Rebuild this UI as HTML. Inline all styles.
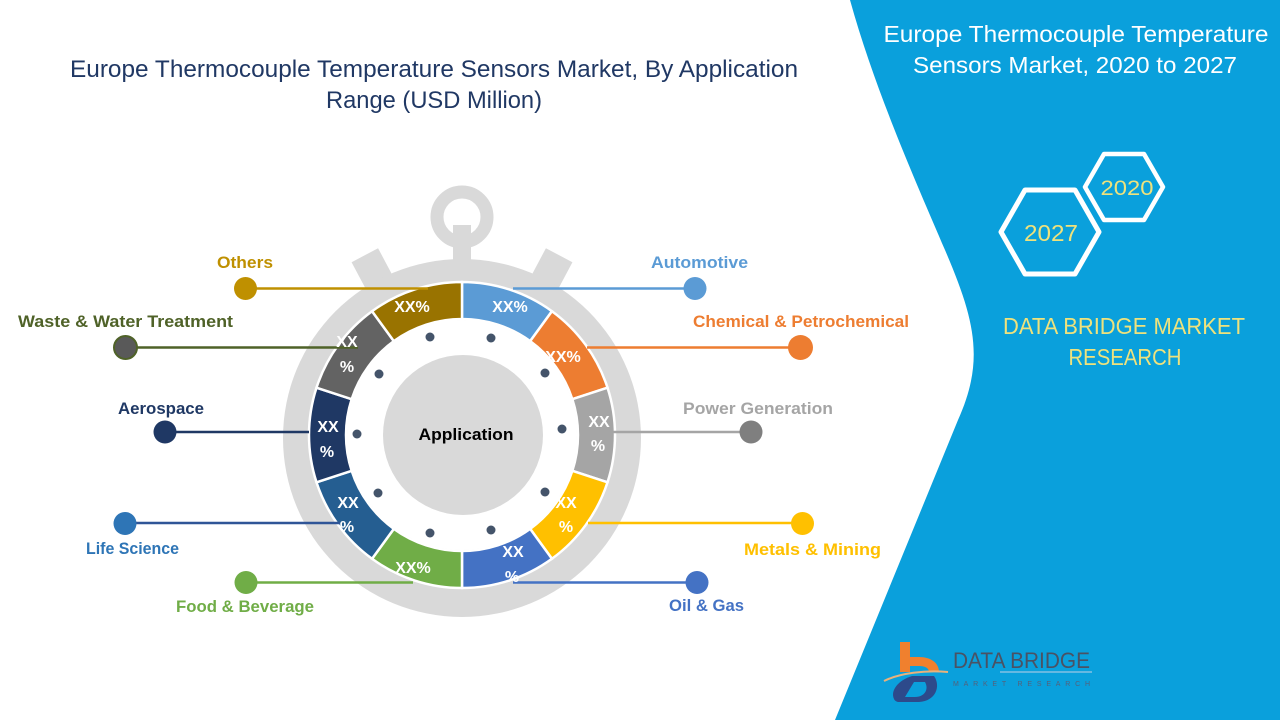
<!DOCTYPE html>
<html>
<head>
<meta charset="utf-8">
<style>
html,body{margin:0;padding:0;background:#fff;}
svg{display:block;}
text{font-family:"Liberation Sans",Arial,sans-serif;}
</style>
</head>
<body>
<svg width="1280" height="720" viewBox="0 0 1280 720" xmlns="http://www.w3.org/2000/svg">
<rect x="0" y="0" width="1280" height="720" fill="#ffffff"/>

<!-- Blue right panel -->
<path d="M850,0 C875,90 915,180 945,250 C975,320 985,360 958,420 L835,720 L1280,720 L1280,0 Z" fill="#0aa0dc"/>

<!-- Left title -->
<text x="434" y="77" font-size="24" fill="#203864" text-anchor="middle" textLength="728" lengthAdjust="spacingAndGlyphs">Europe Thermocouple Temperature Sensors Market, By Application</text>
<text x="434" y="108" font-size="24" fill="#203864" text-anchor="middle" textLength="216" lengthAdjust="spacingAndGlyphs">Range (USD Million)</text>

<!-- Right title -->
<text x="1076" y="42" font-size="23" fill="#ffffff" text-anchor="middle" textLength="385" lengthAdjust="spacingAndGlyphs">Europe Thermocouple Temperature</text>
<text x="1075" y="73" font-size="23" fill="#ffffff" text-anchor="middle" textLength="324" lengthAdjust="spacingAndGlyphs">Sensors Market, 2020 to 2027</text>

<!-- Hexagons -->
<polygon points="1085,187 1104,154 1144,154 1163,187 1144,220 1104,220" fill="none" stroke="#ffffff" stroke-width="4.5" stroke-linejoin="round"/>
<polygon points="1001,232 1025,190 1075,190 1099,232 1075,274 1025,274" fill="none" stroke="#ffffff" stroke-width="5" stroke-linejoin="round"/>
<text x="1127" y="195" font-size="21" fill="#efe27c" text-anchor="middle" textLength="53" lengthAdjust="spacingAndGlyphs">2020</text>
<text x="1051" y="241" font-size="23" fill="#efe27c" text-anchor="middle" textLength="54" lengthAdjust="spacingAndGlyphs">2027</text>

<text x="1124" y="334" font-size="23" fill="#efe27c" text-anchor="middle" textLength="242" lengthAdjust="spacingAndGlyphs">DATA BRIDGE MARKET</text>
<text x="1125" y="365" font-size="23" fill="#efe27c" text-anchor="middle" textLength="113" lengthAdjust="spacingAndGlyphs">RESEARCH</text>

<!-- Logo -->
<g>
  <path d="M900,642 L910,642 L910,657 L919,657 C931,657 939,663 939,672 L929,672 C929,668 925,666 919,666 L910,666 L910,672 L900,672 Z" fill="#f0802e"/>
  <path d="M884,681 C900,673 925,670 948,672" fill="none" stroke="#e8b27c" stroke-width="2"/>
  <path d="M1000,672 L1092,672" fill="none" stroke="#9cc6e4" stroke-width="1.2"/>
  <path fill-rule="evenodd" fill="#2d4a8b" d="M894,699 C890,690 899,680 912,676 L934,676 C941,686 936,701 919,702 L899,702 C897,702 895,701 894,699 Z M905,697 L914,682 L925,682 C929,689 925,697 915,697 Z"/>
  <text x="953" y="668" font-size="22" fill="#4a5264" textLength="137" lengthAdjust="spacingAndGlyphs">DATA BRIDGE</text>
  <text x="953" y="686" font-size="7" fill="#55607a" textLength="137" lengthAdjust="spacing">MARKET RESEARCH</text>
</g>

<!-- Stopwatch body -->
<g fill="#d9d9d9">
  <circle cx="462" cy="217" r="25" fill="none" stroke="#d9d9d9" stroke-width="13"/>
  <rect x="453" y="225" width="18" height="42"/>
  <rect x="447" y="231" width="30" height="50" transform="rotate(-28 462 438)"/>
  <rect x="447" y="231" width="30" height="50" transform="rotate(28 462 438)"/>
  <circle cx="462" cy="438" r="179"/>
</g>

<!-- Segments -->
<g stroke="#ffffff" stroke-width="2.5" stroke-linejoin="miter">
  <path d="M462,282 A153,153 0 0 1 551.93,311.22 L530.18,341.16 A116,116 0 0 0 462,319 Z" fill="#5b9bd5"/>
  <path d="M551.93,311.22 A153,153 0 0 1 607.52,387.72 L572.33,399.16 A116,116 0 0 0 530.18,341.16 Z" fill="#ed7d31"/>
  <path d="M607.52,387.72 A153,153 0 0 1 607.52,482.28 L572.33,470.84 A116,116 0 0 0 572.33,399.16 Z" fill="#a5a5a5"/>
  <path d="M607.52,482.28 A153,153 0 0 1 551.93,558.78 L530.18,528.84 A116,116 0 0 0 572.33,470.84 Z" fill="#ffc000"/>
  <path d="M551.93,558.78 A153,153 0 0 1 462,588 L462,551 A116,116 0 0 0 530.18,528.84 Z" fill="#4472c4"/>
  <path d="M462,588 A153,153 0 0 1 372.07,558.78 L393.82,528.84 A116,116 0 0 0 462,551 Z" fill="#70ad47"/>
  <path d="M372.07,558.78 A153,153 0 0 1 316.48,482.28 L351.67,470.84 A116,116 0 0 0 393.82,528.84 Z" fill="#255e91"/>
  <path d="M316.48,482.28 A153,153 0 0 1 316.48,387.72 L351.67,399.16 A116,116 0 0 0 351.67,470.84 Z" fill="#1f3864"/>
  <path d="M316.48,387.72 A153,153 0 0 1 372.07,311.22 L393.82,341.16 A116,116 0 0 0 351.67,399.16 Z" fill="#636363"/>
  <path d="M372.07,311.22 A153,153 0 0 1 462,282 L462,319 A116,116 0 0 0 393.82,341.16 Z" fill="#997300"/>
</g>
<circle cx="462" cy="435" r="115" fill="#ffffff"/>
<circle cx="463" cy="435" r="80" fill="#d9d9d9"/>

<!-- Dots -->
<g fill="#44546a">
  <circle cx="430" cy="337" r="4.5"/>
  <circle cx="491" cy="338" r="4.5"/>
  <circle cx="379" cy="374" r="4.5"/>
  <circle cx="545" cy="373" r="4.5"/>
  <circle cx="357" cy="434" r="4.5"/>
  <circle cx="562" cy="429" r="4.5"/>
  <circle cx="378" cy="493" r="4.5"/>
  <circle cx="545" cy="492" r="4.5"/>
  <circle cx="430" cy="533" r="4.5"/>
  <circle cx="491" cy="530" r="4.5"/>
</g>

<text x="466" y="440" font-size="17" font-weight="bold" fill="#000000" text-anchor="middle" textLength="95" lengthAdjust="spacingAndGlyphs">Application</text>

<!-- Connector lines -->
<g stroke-width="2.5" fill="none">
  <line x1="245" y1="288.5" x2="428" y2="288.5" stroke="#bf9000"/>
  <line x1="125" y1="347.5" x2="358" y2="347.5" stroke="#4f6228"/>
  <line x1="165" y1="432" x2="309" y2="432" stroke="#1f3864"/>
  <line x1="125" y1="523" x2="340" y2="523" stroke="#2f5597"/>
  <line x1="246" y1="582.5" x2="413" y2="582.5" stroke="#70ad47"/>
  <line x1="513" y1="288.5" x2="695" y2="288.5" stroke="#5b9bd5"/>
  <line x1="587" y1="347.5" x2="800" y2="347.5" stroke="#ed7d31"/>
  <line x1="613" y1="432" x2="751" y2="432" stroke="#a5a5a5"/>
  <line x1="588" y1="523" x2="803" y2="523" stroke="#ffc000"/>
  <line x1="513" y1="582.5" x2="697" y2="582.5" stroke="#4472c4"/>
</g>

<!-- Circles -->
<circle cx="245.5" cy="288.5" r="11.5" fill="#bf9000"/>
<circle cx="125.5" cy="347.5" r="11.5" fill="#595959" stroke="#4f6228" stroke-width="2"/>
<circle cx="165" cy="432" r="11.5" fill="#1f3864"/>
<circle cx="125" cy="523.5" r="11.5" fill="#2e75b6"/>
<circle cx="246" cy="582.5" r="11.5" fill="#70ad47"/>
<circle cx="695" cy="288.5" r="11.5" fill="#5b9bd5"/>
<circle cx="800.5" cy="347.5" r="12.5" fill="#ed7d31"/>
<circle cx="751" cy="432" r="11.5" fill="#7f7f7f"/>
<circle cx="802.5" cy="523.5" r="11.5" fill="#ffc000"/>
<circle cx="697" cy="582.5" r="11.5" fill="#4472c4"/>

<!-- Labels -->
<g font-size="17" font-weight="bold">
  <text x="217" y="268" fill="#bf9000" textLength="56" lengthAdjust="spacingAndGlyphs">Others</text>
  <text x="18" y="327" fill="#4f6228" textLength="215" lengthAdjust="spacingAndGlyphs">Waste &amp; Water Treatment</text>
  <text x="118" y="414" fill="#1f3864" textLength="86" lengthAdjust="spacingAndGlyphs">Aerospace</text>
  <text x="86" y="554" fill="#2e75b6" textLength="93" lengthAdjust="spacingAndGlyphs">Life Science</text>
  <text x="176" y="612" fill="#70ad47" textLength="138" lengthAdjust="spacingAndGlyphs">Food &amp; Beverage</text>
  <text x="651" y="268" fill="#5b9bd5" textLength="97" lengthAdjust="spacingAndGlyphs">Automotive</text>
  <text x="693" y="327" fill="#ed7d31" textLength="216" lengthAdjust="spacingAndGlyphs">Chemical &amp; Petrochemical</text>
  <text x="683" y="414" fill="#a5a5a5" textLength="150" lengthAdjust="spacingAndGlyphs">Power Generation</text>
  <text x="744" y="555" fill="#ffc000" textLength="137" lengthAdjust="spacingAndGlyphs">Metals &amp; Mining</text>
  <text x="669" y="611" fill="#4472c4" textLength="75" lengthAdjust="spacingAndGlyphs">Oil &amp; Gas</text>
</g>

<!-- Segment values -->
<g font-size="16" font-weight="bold" fill="#ffffff" text-anchor="middle">
  <text x="510" y="312">XX%</text>
  <text x="563" y="362">XX%</text>
  <text x="599" y="427">XX</text>
  <text x="598" y="451">%</text>
  <text x="566" y="508">XX</text>
  <text x="566" y="532">%</text>
  <text x="513" y="557">XX</text>
  <text x="512" y="582">%</text>
  <text x="413" y="573">XX%</text>
  <text x="348" y="508">XX</text>
  <text x="347" y="532">%</text>
  <text x="328" y="432">XX</text>
  <text x="327" y="457">%</text>
  <text x="347" y="347">XX</text>
  <text x="347" y="372">%</text>
  <text x="412" y="312">XX%</text>
</g>
</svg>
</body>
</html>
